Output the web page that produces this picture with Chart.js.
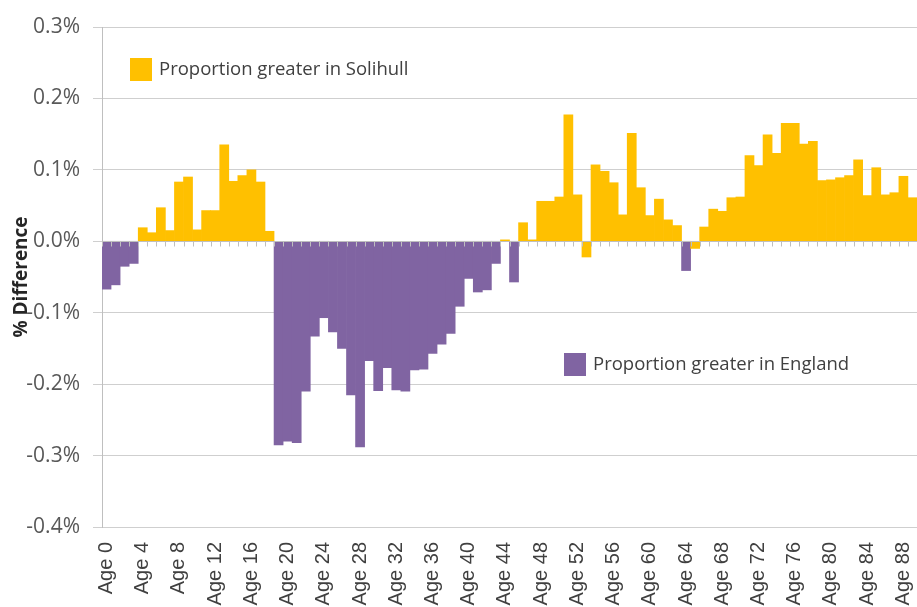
<!DOCTYPE html>
<html>
<head>
<meta charset="utf-8">
<script src="https://cdn.jsdelivr.net/npm/chart.js@4.4.1/dist/chart.umd.min.js"></script>
<style>
  html, body { margin: 0; padding: 0; background: #ffffff; }
  #wrap { width: 917px; height: 607px; overflow: hidden; }
</style>
</head>
<body>
<div id="wrap"><canvas id="c" width="917" height="607"></canvas></div>
<script>
// Categories (Age 0 .. Age 89)
const ages = [
  "Age 0","Age 1","Age 2","Age 3","Age 4","Age 5","Age 6","Age 7","Age 8","Age 9",
  "Age 10","Age 11","Age 12","Age 13","Age 14","Age 15","Age 16","Age 17","Age 18","Age 19",
  "Age 20","Age 21","Age 22","Age 23","Age 24","Age 25","Age 26","Age 27","Age 28","Age 29",
  "Age 30","Age 31","Age 32","Age 33","Age 34","Age 35","Age 36","Age 37","Age 38","Age 39",
  "Age 40","Age 41","Age 42","Age 43","Age 44","Age 45","Age 46","Age 47","Age 48","Age 49",
  "Age 50","Age 51","Age 52","Age 53","Age 54","Age 55","Age 56","Age 57","Age 58","Age 59",
  "Age 60","Age 61","Age 62","Age 63","Age 64","Age 65","Age 66","Age 67","Age 68","Age 69",
  "Age 70","Age 71","Age 72","Age 73","Age 74","Age 75","Age 76","Age 77","Age 78","Age 79",
  "Age 80","Age 81","Age 82","Age 83","Age 84","Age 85","Age 86","Age 87","Age 88","Age 89"
];

// Series: % difference (percentage points)
const solihullGreater = [
  null, null, null, null, 0.019, 0.012, 0.047, 0.015, 0.083, 0.090,
  0.016, 0.043, 0.043, 0.135, 0.084, 0.092, 0.100, 0.083, 0.014, null,
  null, null, null, null, null, null, null, null, null, null,
  null, null, null, null, null, null, null, null, null, null,
  null, null, null, null, 0.002, null, 0.026, 0.002, 0.056, 0.056,
  0.062, 0.177, 0.065, -0.022, 0.107, 0.098, 0.082, 0.037, 0.151, 0.075,
  0.036, 0.059, 0.030, 0.022, null, -0.010, 0.020, 0.045, 0.042, 0.061,
  0.062, 0.120, 0.106, 0.149, 0.123, 0.165, 0.165, 0.136, 0.140, 0.085,
  0.086, 0.089, 0.092, 0.114, 0.064, 0.103, 0.065, 0.068, 0.091, 0.061
];

const englandGreater = [
  -0.067, -0.061, -0.035, -0.031, null, null, null, null, null, null,
  null, null, null, null, null, null, null, null, null, -0.285,
  -0.280, -0.282, -0.210, -0.133, -0.107, -0.127, -0.150, -0.215, -0.288, -0.167,
  -0.209, -0.177, -0.208, -0.210, -0.180, -0.179, -0.157, -0.144, -0.129, -0.091,
  -0.052, -0.071, -0.068, -0.031, null, -0.057, null, null, null, null,
  null, null, null, null, null, null, null, null, null, null,
  null, null, null, null, -0.041, null, null, null, null, null,
  null, null, null, null, null, null, null, null, null, null,
  null, null, null, null, null, null, null, null, null, null
];

// Tick settings
const yMin = -0.4, yMax = 0.3, yStep = 0.1;
const labelEvery = 4;

const seriesNames = ["Proportion greater in Solihull", "Proportion greater in England"];
const seriesColors = ["#FFC000", "#8064A2"];

// Plugin: zero axis line with tick marks, and in-plot legends
const overlay = {
  id: 'overlay',
  afterDatasetsDraw(chart) {
    const ctx = chart.ctx;
    const xs = chart.scales.x, ys = chart.scales.y;
    const y0 = Math.round(ys.getPixelForValue(0)) + 0.5;
    const area = chart.chartArea;
    ctx.save();
    ctx.strokeStyle = '#bfbfbf';
    ctx.lineWidth = 1;
    ctx.beginPath();
    ctx.moveTo(area.left, y0);
    ctx.lineTo(area.right, y0);
    const n = ages.length;
    const w = (xs.getPixelForValue(1) - xs.getPixelForValue(0));
    for (let i = 0; i <= n; i++) {
      const x = Math.round(xs.getPixelForValue(i) - w / 2) + 0.5;
      ctx.moveTo(x, y0);
      ctx.lineTo(x, y0 + 5);
    }
    ctx.stroke();

    // Legends placed inside the plot
    const items = [
      { name: seriesNames[0], color: seriesColors[0], x: area.left + 28, y: area.top + 31 },
      { name: seriesNames[1], color: seriesColors[1], x: area.left + 462, y: area.top + 326 }
    ];
    ctx.font = '18.5px "Open Sans"';
    ctx.textBaseline = 'middle';
    ctx.textAlign = 'left';
    items.forEach(it => {
      ctx.fillStyle = it.color;
      ctx.fillRect(it.x, it.y, 22, 23);
      ctx.fillStyle = '#404040';
      ctx.fillText(it.name, it.x + 29, it.y + 12);
    });
    ctx.restore();
  }
};

new Chart(document.getElementById('c'), {
  type: 'bar',
  data: {
    labels: ages,
    datasets: [
      { label: seriesNames[0], data: solihullGreater, backgroundColor: seriesColors[0],
        borderWidth: 0, barPercentage: 1, categoryPercentage: 1 },
      { label: seriesNames[1], data: englandGreater, backgroundColor: seriesColors[1],
        borderWidth: 0, barPercentage: 1, categoryPercentage: 1 }
    ]
  },
  options: {
    responsive: false,
    animation: false,
    devicePixelRatio: 1,
    layout: { padding: { top: 27, right: 0, bottom: 0, left: 0 } },
    plugins: {
      legend: { display: false },
      tooltip: { enabled: false }
    },
    scales: {
      x: {
        stacked: true,
        offset: true,
        grid: { display: false, drawTicks: false, tickLength: 0 },
        border: { display: false },
        ticks: {
          autoSkip: false,
          maxRotation: 90,
          minRotation: 90,
          padding: 15,
          color: '#404040',
          font: { family: '"Liberation Sans", Arial, sans-serif', size: 20 },
          callback: function (val, idx) { return idx % labelEvery === 0 ? ages[idx] : ''; }
        },
        afterFit: function (s) { s.height = 80; s.paddingLeft = 0; s.paddingRight = 0; }
      },
      y: {
        stacked: true,
        min: yMin,
        max: yMax,
        grid: { color: '#cfcfcf', tickLength: 9, drawTicks: true },
        border: { display: true, color: '#bfbfbf' },
        ticks: {
          stepSize: yStep,
          padding: 13,
          color: '#595959',
          font: { family: '"Open Sans", sans-serif', size: 21 },
          callback: function (v) { const r = Math.abs(v) < 1e-9 ? 0 : v; return r.toFixed(1) + '%'; }
        },
        title: {
          display: true,
          text: '% Difference',
          color: '#262626',
          font: { family: '"Open Sans", sans-serif', size: 19, weight: 'bold' },
          padding: { top: 10, bottom: 0 }
        },
        afterFit: function (s) { s.width = 102; s.paddingTop = 0; s.paddingBottom = 0; }
      }
    }
  },
  plugins: [overlay]
});
</script>
</body>
</html>
